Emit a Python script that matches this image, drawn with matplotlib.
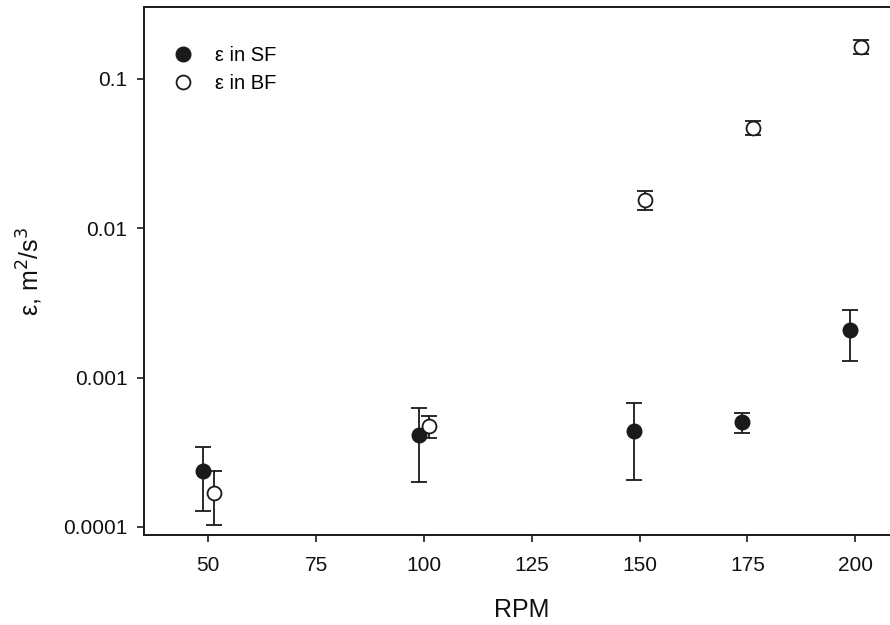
import matplotlib
matplotlib.use("Agg")
import matplotlib.pyplot as plt
import numpy as np

plt.rcParams['font.family'] = ['Liberation Sans', 'DejaVu Sans']

# SF (filled)
sf_x = [48.8, 98.8, 148.8, 173.8, 198.8]
sf_y = [2.37e-4, 4.13e-4, 4.39e-4, 5.02e-4, 2.07e-3]
sf_lo = [1.28e-4, 2.0e-4, 2.07e-4, 4.25e-4, 1.29e-3]
sf_hi = [3.45e-4, 6.24e-4, 6.74e-4, 5.80e-4, 2.84e-3]

# BF (open)
bf_x = [51.3, 101.3, 151.3, 176.3, 201.3]
bf_y = [1.70e-4, 4.77e-4, 0.0155, 0.0472, 0.163]
bf_lo = [1.03e-4, 3.97e-4, 0.0133, 0.0424, 0.147]
bf_hi = [2.36e-4, 5.57e-4, 0.0177, 0.0526, 0.181]

x_ticks = [50, 75, 100, 125, 150, 175, 200]
y_ticks = [0.0001, 0.001, 0.01, 0.1]
y_ticklabels = ['0.0001', '0.001', '0.01', '0.1']

fig = plt.figure(figsize=(8.9, 6.25), dpi=100)
ax = fig.add_axes([144/890, 1-535/625, 756/890, 528/625])

lc = '#1a1a1a'

def yerr(y, lo, hi):
    y = np.array(y); return [y - np.array(lo), np.array(hi) - y]

ax.errorbar(sf_x, sf_y, yerr=yerr(sf_y, sf_lo, sf_hi), fmt='o', ms=10.5,
            mfc=lc, mec=lc, ecolor=lc, elinewidth=1.3, capsize=6, capthick=1.3,
            label='\u03b5 in SF', zorder=3)
ax.errorbar(bf_x, bf_y, yerr=yerr(bf_y, bf_lo, bf_hi), fmt='o', ms=10,
            mfc='white', mec=lc, mew=1.3, ecolor=lc, elinewidth=1.3, capsize=6,
            capthick=1.3, label='\u03b5 in BF', zorder=3)

ax.set_yscale('log')
ax.set_xlim(35.1, 210.4)
ax.set_ylim(8.83e-5, 0.303)
ax.set_xticks(x_ticks)
ax.set_xticklabels([str(t) for t in x_ticks])
ax.set_yticks(y_ticks)
ax.set_yticklabels(y_ticklabels)
ax.yaxis.set_minor_locator(matplotlib.ticker.NullLocator())

for s in ['left', 'top', 'bottom']:
    ax.spines[s].set_linewidth(1.4)
    ax.spines[s].set_color(lc)
ax.spines['right'].set_visible(False)

ax.tick_params(axis='both', which='major', length=5, width=1.2, color=lc,
               labelsize=15, labelcolor='#111111')
ax.tick_params(axis='y', pad=7)
ax.tick_params(axis='x', pad=10)

ax.set_xlabel('RPM', fontsize=18, labelpad=17, color='#111111')
ax.set_ylabel('\u03b5, m$^2$/s$^3$', fontsize=18, labelpad=13, color='#111111')

handles, labels = ax.get_legend_handles_labels()
handles = [h[0] for h in handles]
leg = ax.legend(handles, labels, loc='upper left', bbox_to_anchor=(0.0225, 0.945),
                frameon=False, fontsize=14.5, handletextpad=1.0, labelspacing=0.45,
                handlelength=1.2, borderpad=0)

fig.savefig('out.png', dpi=100)
